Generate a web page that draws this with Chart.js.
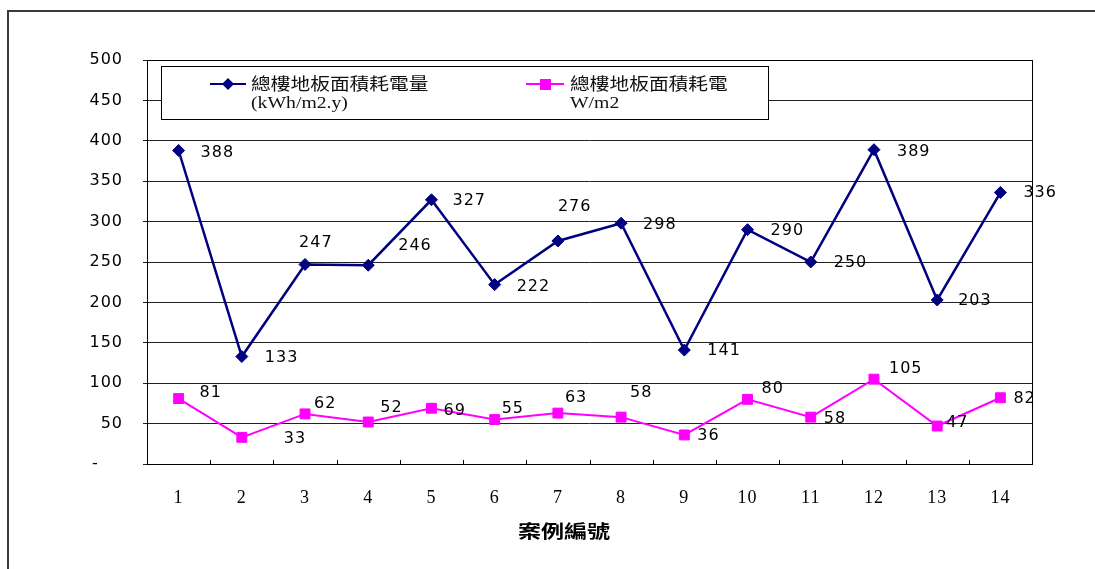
<!DOCTYPE html>
<html>
<head>
<meta charset="utf-8">
<script src="https://cdn.jsdelivr.net/npm/chart.js@4.4.1/dist/chart.umd.min.js"></script>
<style>
  html, body { margin: 0; padding: 0; background: #fff; }
  canvas { display: block; }
</style>
</head>
<body>
<canvas id="chart" width="1095" height="569"></canvas>
<script>
// case numbers on the bottom axis
var caseNos = ['1', '2', '3', '4', '5', '6', '7', '8', '9', '10', '11', '12', '13', '14'];

// energy use per floor area (kWh/m2.y)
var energyPerArea = [388, 133, 247, 246, 327, 222, 276, 298, 141, 290, 250, 389, 203, 336];
// power density per floor area (W/m2)
var powerPerArea = [81, 33, 62, 52, 69, 55, 63, 58, 36, 80, 58, 105, 47, 82];

// value axis
var yMin = 0, yMax = 500, yStep = 50;

// legend text, two lines per series
var energyLegend = ['總樓地板面積耗電量', '(kWh/m2.y)'];
var powerLegend = ['總樓地板面積耗電', 'W/m2'];
var axisTitle = '案例編號';

// where each value label sits relative to its marker (px)
var energyLabelDx = [22, 23, -6, 30, 21, 22, 0, 22, 23, 23, 23, 23, 21, 23];
var energyLabelDy = [2, 1, -22, -19, 1, 2, -34, 2, 1, 1, 1, 2, 1, 0];
var powerLabelDx = [21, 42, 9, 12, 12, 7, 7, 9, 13, 14, 13, 15, 9, 13];
var powerLabelDy = [-6, 2, -10, -14, 3, -11, -15, -24, 1, -11, 2, -10, -3, 1];

var NAVY = '#000080';
var PINK = '#ff00ff';
var SANS = "'DejaVu Sans', Verdana, sans-serif";

function wideText(ctx, text, x, y, sx) {
  ctx.save();
  ctx.translate(x, y);
  ctx.scale(sx, 1);
  ctx.fillText(text, 0, 0);
  ctx.restore();
}

var sheet = {
  id: 'sheet',
  beforeDraw: function (chart) {
    var ctx = chart.ctx;
    ctx.save();
    ctx.fillStyle = '#fff';
    ctx.fillRect(0, 0, chart.width, chart.height);
    ctx.strokeStyle = '#3a3a3a';
    ctx.lineWidth = 2;
    ctx.beginPath();
    ctx.moveTo(8, chart.height);
    ctx.lineTo(8, 11);
    ctx.lineTo(chart.width, 11);
    ctx.stroke();
    ctx.restore();
    ctx.letterSpacing = '1px';
  },
  beforeDatasetsDraw: function (chart) {
    var ctx = chart.ctx, a = chart.chartArea, xs = chart.scales.x;
    ctx.save();
    ctx.strokeStyle = '#000';
    ctx.lineWidth = 1;
    ctx.strokeRect(Math.round(a.left) + 0.5, Math.round(a.top) + 0.5,
      Math.round(a.right - a.left), Math.round(a.bottom - a.top));
    // small inward ticks between cases
    ctx.beginPath();
    for (var i = 1; i < caseNos.length; i++) {
      var x = Math.round((xs.getPixelForTick(i - 1) + xs.getPixelForTick(i)) / 2) + 0.5;
      ctx.moveTo(x, a.bottom);
      ctx.lineTo(x, a.bottom - 4);
    }
    ctx.stroke();
    ctx.restore();
  },
  afterDatasetsDraw: function (chart) {
    var ctx = chart.ctx;
    var sets = [
      [energyPerArea, energyLabelDx, energyLabelDy],
      [powerPerArea, powerLabelDx, powerLabelDy]
    ];
    ctx.save();
    ctx.font = '16px ' + SANS;
    ctx.fillStyle = '#000';
    ctx.textAlign = 'left';
    ctx.textBaseline = 'middle';
    sets.forEach(function (s, di) {
      var pts = chart.getDatasetMeta(di).data;
      pts.forEach(function (p, i) {
        ctx.fillText(String(s[0][i]), p.x + s[1][i], p.y + s[2][i]);
      });
    });
    ctx.restore();
  },
  afterDraw: function (chart) {
    var ctx = chart.ctx;
    ctx.save();
    ctx.letterSpacing = '0px';

    // legend box
    ctx.fillStyle = '#fff';
    ctx.fillRect(161, 66, 607, 53);
    ctx.strokeStyle = '#000';
    ctx.lineWidth = 1;
    ctx.strokeRect(161.5, 66.5, 607, 53);

    // energy entry
    ctx.strokeStyle = NAVY;
    ctx.lineWidth = 2;
    ctx.beginPath();
    ctx.moveTo(210, 84);
    ctx.lineTo(246, 84);
    ctx.stroke();
    ctx.fillStyle = NAVY;
    ctx.beginPath();
    ctx.moveTo(228, 78);
    ctx.lineTo(234, 84);
    ctx.lineTo(228, 90);
    ctx.lineTo(222, 84);
    ctx.closePath();
    ctx.fill();

    // power entry
    ctx.strokeStyle = PINK;
    ctx.beginPath();
    ctx.moveTo(526, 84);
    ctx.lineTo(564, 84);
    ctx.stroke();
    ctx.fillStyle = PINK;
    ctx.fillRect(540, 79, 11, 11);

    ctx.fillStyle = '#111';
    ctx.textAlign = 'left';
    ctx.textBaseline = 'middle';
    ctx.font = "17px 'Liberation Serif', 'Noto Sans CJK TC', serif";
    wideText(ctx, energyLegend[0], 251, 86, 1.16);
    wideText(ctx, energyLegend[1], 251, 104, 1.16);
    wideText(ctx, powerLegend[0], 570, 86, 1.16);
    wideText(ctx, powerLegend[1], 570, 104, 1.16);

    // category axis title
    ctx.fillStyle = '#000';
    ctx.textAlign = 'center';
    ctx.font = "bold 18px 'Noto Sans CJK TC', sans-serif";
    wideText(ctx, axisTitle, 564, 531, 1.28);
    ctx.restore();
  }
};

new Chart(document.getElementById('chart'), {
  type: 'line',
  data: {
    labels: caseNos,
    datasets: [
      {
        label: energyLegend.join(' '),
        data: energyPerArea,
        borderColor: NAVY,
        backgroundColor: NAVY,
        borderWidth: 2.5,
        pointStyle: 'rectRot',
        pointRadius: 6,
        pointBorderWidth: 1,
        tension: 0,
        fill: false
      },
      {
        label: powerLegend.join(' '),
        data: powerPerArea,
        borderColor: PINK,
        backgroundColor: PINK,
        borderWidth: 2,
        pointStyle: 'rect',
        pointRadius: 7,
        pointBorderWidth: 1,
        tension: 0,
        fill: false
      }
    ]
  },
  options: {
    responsive: false,
    animation: false,
    devicePixelRatio: 1,
    layout: { padding: { top: 60, right: 63, left: 0, bottom: 0 } },
    plugins: {
      legend: { display: false },
      title: { display: false },
      tooltip: { enabled: false }
    },
    scales: {
      x: {
        type: 'category',
        offset: true,
        grid: { display: false },
        border: { display: false },
        ticks: {
          color: '#000',
          padding: 15,
          maxRotation: 0,
          font: { family: "'Liberation Serif', serif", size: 18 }
        },
        afterFit: function (s) { s.height = 105; }
      },
      y: {
        min: yMin,
        max: yMax,
        border: { display: false },
        grid: { color: '#222', lineWidth: 1, tickLength: 4 },
        ticks: {
          stepSize: yStep,
          color: '#000',
          padding: 20,
          font: { family: SANS, size: 16 },
          callback: function (v) { return v === 0 ? '-    ' : String(v); }
        },
        afterFit: function (s) { s.width = 147; }
      }
    }
  },
  plugins: [sheet]
});
</script>
</body>
</html>
